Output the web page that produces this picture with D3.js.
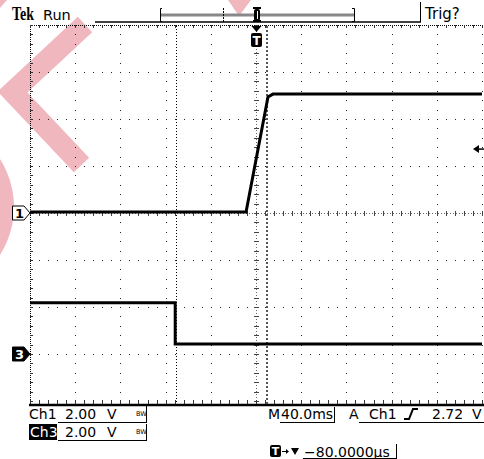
<!doctype html>
<html>
<head>
<meta charset="utf-8">
<style>
  body { margin: 0; background: #fff; }
  text { font-family: "DejaVu Sans", sans-serif; fill: #000; }
</style>
<script src="https://d3js.org/d3.v7.min.js"></script>
</head>
<body>
<script>
// time in ms, levels in volts
var ch1Time  = [-200, -8.8, 10.6, 15, 200];
var ch1Volts = [0.04, 0.04, 4.94, 5.06, 5.06];
var ch3Time  = [-200, -71.5, -71.5, 200];
var ch3Volts = [2.18, 2.18, 0.43, 0.43];
var cursorTimes = [-70.8, 9.7];
var trigLevel = 2.72;
var voltsPerDiv = 2;
var ch1Offset = 0, ch3Offset = -3;   // in divisions
var xMajor = d3.range(-200, 201, 40);
var xMinor = d3.range(-200, 200.1, 8);
var yMajor = d3.range(-4, 5, 1);
var yMinor = d3.range(-4, 4.01, 0.2);

var W = 484, H = 459;
var x = d3.scaleLinear().domain([-200, 200]).range([30, 482]);
var yd = d3.scaleLinear().domain([-4, 4]).range([401, 25]);

var svg = d3.select("body").append("svg")
    .attr("width", W).attr("height", H)
    .style("display", "block");

// pink watermark underneath everything
var pink = "#f0b7be";
var wm = svg.append("g");
wm.append("polyline")
    .attr("points", "85,24.5 12.5,92 81.5,165")
    .attr("fill", "none").attr("stroke", pink)
    .attr("stroke-width", 21).attr("stroke-linejoin", "miter");
wm.append("circle").attr("cx", -75).attr("cy", 207).attr("r", 89).attr("fill", pink);
wm.append("polygon").attr("points", "228,0 251,0 239,16").attr("fill", pink);
wm.append("polygon").attr("points", "0,0 7,0 0,8").attr("fill", pink);

// graticule
var grid = svg.append("g");
// dots on inner major lines
xMajor.filter(function(d){ return d != -200 && d != 0; }).forEach(function(t){
  yMinor.forEach(function(v){
    grid.append("rect").attr("x", Math.round(x(t))).attr("y", Math.round(yd(v)))
      .attr("width", 1).attr("height", 1).attr("fill", "#222");
  });
});
yMajor.filter(function(d){ return d != 4 && d != -4 && d != 0; }).forEach(function(v){
  xMinor.forEach(function(t){
    grid.append("rect").attr("x", Math.round(x(t))).attr("y", Math.round(yd(v)))
      .attr("width", 1).attr("height", 1).attr("fill", "#222");
  });
});
// centre lines with ticks
grid.append("line").attr("x1", x(0) + 0.5).attr("x2", x(0) + 0.5)
  .attr("y1", yd(4)).attr("y2", yd(-4))
  .attr("stroke", "#666").attr("stroke-dasharray", "1,2");
grid.append("line").attr("y1", yd(0) + 0.5).attr("y2", yd(0) + 0.5)
  .attr("x1", x(-200)).attr("x2", x(200))
  .attr("stroke", "#666").attr("stroke-dasharray", "1,2");
grid.selectAll(".vt").data(yMinor).enter().append("line")
  .attr("x1", x(0) - 2).attr("x2", x(0) + 3)
  .attr("y1", function(d){ return Math.round(yd(d)) + 0.5; })
  .attr("y2", function(d){ return Math.round(yd(d)) + 0.5; })
  .attr("stroke", "#444");
grid.selectAll(".ht").data(xMinor).enter().append("line")
  .attr("y1", yd(0) - 2).attr("y2", yd(0) + 3)
  .attr("x1", function(d){ return Math.round(x(d)) + 0.5; })
  .attr("x2", function(d){ return Math.round(x(d)) + 0.5; })
  .attr("stroke", "#444");
// left and top borders
grid.append("line").attr("x1", 30.5).attr("x2", 30.5).attr("y1", 25).attr("y2", 404)
  .attr("stroke", "#000").attr("stroke-dasharray", "1,1");
grid.append("line").attr("x1", 30).attr("x2", 484).attr("y1", 25.5).attr("y2", 25.5)
  .attr("stroke", "#000").attr("stroke-dasharray", "1,1");
grid.selectAll(".lt").data(yMinor).enter().append("line")
  .attr("x1", 30).attr("x2", 33)
  .attr("y1", function(d){ return Math.round(yd(d)) + 0.5; })
  .attr("y2", function(d){ return Math.round(yd(d)) + 0.5; })
  .attr("stroke", "#333");
grid.selectAll(".tt").data(xMinor).enter().append("line")
  .attr("y1", 25).attr("y2", 28)
  .attr("x1", function(d){ return Math.round(x(d)) + 0.5; })
  .attr("x2", function(d){ return Math.round(x(d)) + 0.5; })
  .attr("stroke", "#333");
// bottom border
grid.append("line").attr("x1", 29).attr("x2", 484).attr("y1", 405).attr("y2", 405)
  .attr("stroke", "#000").attr("stroke-width", 2.5);
grid.selectAll(".bt").data(xMinor).enter().append("line")
  .attr("y1", 400).attr("y2", 404)
  .attr("x1", function(d){ return Math.round(x(d)) + 0.5; })
  .attr("x2", function(d){ return Math.round(x(d)) + 0.5; })
  .attr("stroke", "#333");

// cursors
svg.append("line").attr("x1", Math.round(x(cursorTimes[0])) + 0.5).attr("x2", Math.round(x(cursorTimes[0])) + 0.5)
  .attr("y1", 26).attr("y2", 404).attr("stroke", "#000").attr("stroke-dasharray", "1,2");
svg.append("line").attr("x1", Math.round(x(cursorTimes[1]))).attr("x2", Math.round(x(cursorTimes[1])))
  .attr("y1", 26).attr("y2", 404).attr("stroke", "#555").attr("stroke-width", 2)
  .attr("stroke-dasharray", "2,2");

// traces
function trace(times, volts, off) {
  var pts = times.map(function(t, i){ return [x(t), yd(volts[i] / voltsPerDiv + off)]; });
  svg.append("path").attr("d", d3.line()(pts))
    .attr("fill", "none").attr("stroke", "#000").attr("stroke-width", 3);
}
trace(ch1Time, ch1Volts, ch1Offset);
trace(ch3Time, ch3Volts, ch3Offset);

// trigger level arrow
var ty = yd(trigLevel / voltsPerDiv + ch1Offset);
svg.append("path").attr("d", "M473," + ty + "L479," + (ty - 4) + "L479," + (ty + 4) + "Z").attr("fill", "#000");
svg.append("line").attr("x1", 478).attr("x2", 484).attr("y1", ty).attr("y2", ty).attr("stroke", "#000").attr("stroke-width", 1.5);

// channel markers
function marker(off, label, filled) {
  var y = yd(off);
  svg.append("path")
    .attr("d", "M12.5," + (y - 7) + "L24," + (y - 7) + "L30," + y + "L24," + (y + 7) + "L12.5," + (y + 7) + "Z")
    .attr("fill", filled ? "#000" : "#fff").attr("stroke", "#000");
  svg.append("text").attr("x", 15).attr("y", y + 5).text(label)
    .style("font-size", "13px").style("font-weight", "bold")
    .style("fill", filled ? "#fff" : "#000");
}
marker(ch1Offset, "1", false);
marker(ch3Offset, "3", true);

// T position marker below top border
var tx = x(0);
svg.append("path").attr("d", "M" + (tx - 4.5) + ",26L" + (tx + 5.5) + ",26L" + (tx + 0.5) + ",32Z").attr("fill", "#000");
svg.append("rect").attr("x", tx - 5).attr("y", 33).attr("width", 11).attr("height", 14).attr("rx", 2).attr("fill", "#000");
svg.append("text").attr("x", tx + 0.5).attr("y", 45).attr("text-anchor", "middle").text("T")
  .style("font-size", "12px").style("font-weight", "bold").style("fill", "#fff");

// top status line
svg.append("text").attr("x", 12).attr("y", 20).text("Tek")
  .attr("textLength", 22).attr("lengthAdjust", "spacingAndGlyphs")
  .style("font-family", "'Liberation Serif', serif").style("font-weight", "bold").style("font-size", "19px");
svg.append("text").attr("x", 43).attr("y", 20).text("Run").style("font-size", "14.5px");
svg.append("line").attr("x1", 95).attr("x2", 421).attr("y1", 22).attr("y2", 22).attr("stroke", "#000").attr("stroke-width", 1.5);
svg.append("line").attr("x1", 420.5).attr("x2", 420.5).attr("y1", 2).attr("y2", 22).attr("stroke", "#000");
svg.append("text").attr("x", 425).attr("y", 19).text("Trig?").style("font-size", "15px");
// record view bar
svg.append("line").attr("x1", 160).attr("x2", 354).attr("y1", 15).attr("y2", 15).attr("stroke", "#888").attr("stroke-width", 3);
svg.append("path").attr("d", "M162,8.5H160.5V21.5H162").attr("fill", "none").attr("stroke", "#000");
svg.append("path").attr("d", "M352,8.5H354.5V21.5H352").attr("fill", "none").attr("stroke", "#000");
svg.append("line").attr("x1", 223.5).attr("x2", 223.5).attr("y1", 8).attr("y2", 22).attr("stroke", "#000").attr("stroke-dasharray", "2,1");
svg.append("rect").attr("x", 253).attr("y", 7).attr("width", 8).attr("height", 2).attr("fill", "#000");
svg.append("rect").attr("x", 254).attr("y", 9).attr("width", 6).attr("height", 12).attr("rx", 2).attr("fill", "#000");
svg.append("rect").attr("x", 253).attr("y", 20).attr("width", 8).attr("height", 2).attr("fill", "#000");
svg.append("line").attr("x1", 257.5).attr("x2", 257.5).attr("y1", 11).attr("y2", 19).attr("stroke", "#fff");

// bottom readouts
function txt(xp, yp, s, col) {
  return svg.append("text").attr("x", xp).attr("y", yp).text(s)
    .style("font-size", "14px").style("fill", col || "#000");
}
function field(x1, x2, yl, ytop) {
  svg.append("line").attr("x1", x1).attr("x2", x2).attr("y1", yl + 0.5).attr("y2", yl + 0.5).attr("stroke", "#000");
  svg.append("line").attr("x1", x2 + 0.5).attr("x2", x2 + 0.5).attr("y1", ytop).attr("y2", yl + 1).attr("stroke", "#000");
}
function bw(xp, yp) {
  svg.append("text").attr("x", xp).attr("y", yp).text("BW").style("font-size", "6.5px");
}
txt(29, 419, "Ch1");
txt(65, 419, "2.00"); txt(107, 419, "V");
bw(136, 416);
field(58, 146, 422, 406);
svg.append("rect").attr("x", 29).attr("y", 424).attr("width", 28).attr("height", 16).attr("fill", "#000");
txt(30, 437, "Ch3", "#fff");
txt(65, 437, "2.00"); txt(107, 437, "V");
bw(136, 434);
field(58, 146, 440, 424);

txt(268, 419, "M");
txt(281, 419, "40.0ms");
field(280, 334, 422, 407);
txt(349, 419, "A");
svg.append("line").attr("x1", 359).attr("x2", 484).attr("y1", 422.5).attr("y2", 422.5).attr("stroke", "#000");
txt(369, 419, "Ch1");
svg.append("path").attr("d", "M404,419H409L413,409H418").attr("fill", "none").attr("stroke", "#000").attr("stroke-width", 2);
txt(432, 419, "2.72"); txt(472, 419, "V");

// delay readout
svg.append("rect").attr("x", 270).attr("y", 445).attr("width", 11).attr("height", 12).attr("rx", 2).attr("fill", "#000");
svg.append("text").attr("x", 275.5).attr("y", 455).attr("text-anchor", "middle").text("T")
  .style("font-size", "11px").style("font-weight", "bold").style("fill", "#fff");
svg.append("path").attr("d", "M282,451.5H288").attr("stroke", "#000");
svg.append("path").attr("d", "M286,449L289,451.5L286,454Z").attr("fill", "#000");
svg.append("path").attr("d", "M291,448H299L295,455Z").attr("fill", "#000");
txt(304, 457, "\u221280.0000\u00b5s");
field(303, 396, 458, 444);
</script>
</body>
</html>
